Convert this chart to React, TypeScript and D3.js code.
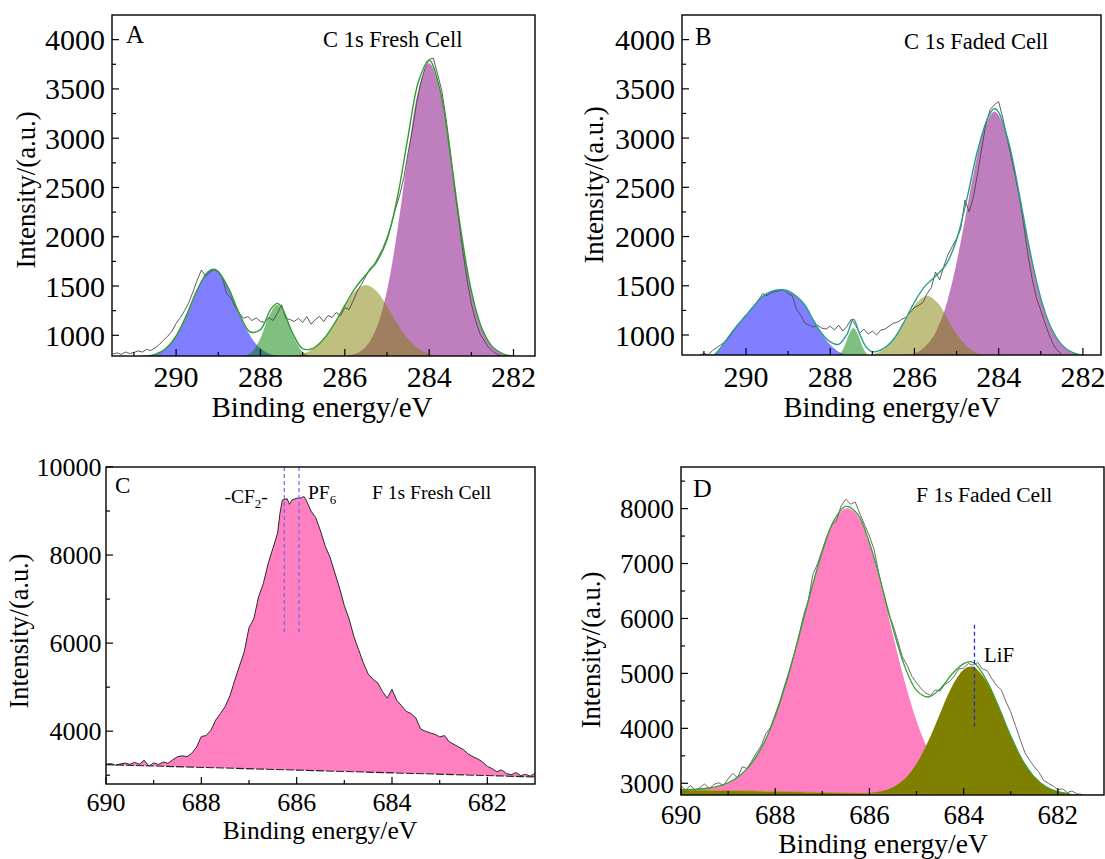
import React from "react";
import * as d3 from "d3";

const FONT = '"Liberation Serif","Times New Roman",Times,serif';

// ================= Panel A : C 1s Fresh Cell =================
const A_X_MAJOR = [290, 288, 286, 284, 282];
const A_X_MINOR = [291, 289, 287, 285, 283];
const A_Y_MAJOR = [1000, 1500, 2000, 2500, 3000, 3500, 4000];
const A_Y_MINOR = [1250, 1750, 2250, 2750, 3250, 3750];

const A_BLUE_X = [290.87, 290.62, 290.37, 290.12, 289.87, 289.62, 289.37, 289.12, 288.87, 288.62, 288.37, 288.12, 287.87, 287.62, 287.37];
const A_BLUE_Y = [783, 794, 829, 920, 1094, 1341, 1573, 1670, 1573, 1341, 1094, 920, 829, 794, 783];
const A_GREEN_X = [288.6, 288.4, 288.2, 288.0, 287.8, 287.6, 287.4, 287.2, 287.0, 286.8, 286.6];
const A_GREEN_Y = [781, 789, 833, 971, 1191, 1310, 1191, 971, 833, 789, 781];
const A_OLIVE_X = [287.5, 287.25, 287.0, 286.75, 286.5, 286.25, 286.0, 285.75, 285.5, 285.25, 285.0, 284.75, 284.5, 284.25, 284.0, 283.75, 283.5];
const A_OLIVE_Y = [783, 790, 812, 863, 962, 1114, 1296, 1449, 1510, 1449, 1296, 1114, 962, 863, 812, 790, 783];
const A_PURPLE_X = [286.25, 286.0, 285.75, 285.5, 285.25, 285.0, 284.75, 284.5, 284.25, 284.0, 283.75, 283.5, 283.25, 283.0, 282.75, 282.5, 282.25, 282.0, 281.75];
const A_PURPLE_Y = [782, 788, 812, 885, 1072, 1454, 2072, 2835, 3495, 3760, 3495, 2835, 2072, 1454, 1072, 885, 812, 788, 782];

const A_ENV_X = [291.5, 291.25, 291.0, 290.75, 290.5, 290.25, 290.0, 289.75, 289.5, 289.25, 289.1, 289.0, 288.75, 288.5, 288.25, 288.0, 287.75, 287.6, 287.5, 287.25, 287.0, 286.75, 286.5, 286.25, 286.0, 285.75, 285.5, 285.25, 285.0, 284.75, 284.5, 284.25, 284.0, 283.75, 283.5, 283.25, 283.0, 282.75, 282.5, 282.25, 282.0, 281.75, 281.5];
const A_ENV_Y = [780, 780, 781, 787, 806, 864, 993, 1207, 1462, 1643, 1670, 1647, 1471, 1220, 1036, 1058, 1268, 1324, 1287, 1034, 865, 868, 962, 1116, 1304, 1481, 1615, 1741, 1970, 2406, 3017, 3578, 3792, 3505, 2838, 2072, 1454, 1072, 885, 812, 788, 782, 780];

const A_RAW_X = [
  291.5, 291.4, 291.3, 291.2, 291.1, 291.0, 290.9, 290.8, 290.7, 290.6,
  290.5, 290.4, 290.3, 290.2, 290.1, 290.0, 289.9, 289.8, 289.7, 289.6,
  289.5, 289.4, 289.3, 289.2, 289.1, 289.0, 288.9, 288.8, 288.7, 288.6,
  288.5, 288.4, 288.3, 288.2, 288.1, 288.0, 287.9, 287.8, 287.7, 287.6,
  287.5, 287.4, 287.3, 287.2, 287.1, 287.0, 286.9, 286.8, 286.7, 286.6,
  286.5, 286.4, 286.3, 286.2, 286.1, 286.0, 285.9, 285.8, 285.7, 285.6,
  285.5, 285.4, 285.3, 285.2, 285.1, 285.0, 284.9, 284.8, 284.7, 284.6,
  284.5, 284.4, 284.3, 284.2, 284.1, 284.0, 283.9, 283.8, 283.7, 283.6,
  283.5, 283.4, 283.3, 283.2, 283.1, 283.0, 282.9, 282.8, 282.7, 282.6,
  282.5, 282.4, 282.3,
];
const A_RAW_Y = [
  810, 822, 806, 831, 815, 826, 842, 830, 856, 846,
  872, 905, 950, 990, 1040, 1120, 1180, 1250, 1330, 1440,
  1560, 1662, 1600, 1640, 1668, 1645, 1580, 1420, 1380, 1290,
  1222, 1172, 1190, 1150, 1176, 1140, 1132, 1180, 1150, 1222,
  1310, 1172, 1160, 1140, 1172, 1130, 1190, 1112, 1160, 1192,
  1140, 1200, 1182, 1232, 1200, 1282, 1260, 1350, 1450, 1520,
  1600, 1680, 1720, 1800, 1880, 1990, 2120, 2280, 2420, 2600,
  2850, 3080, 3350, 3560, 3710, 3800, 3812, 3650, 3480, 3200,
  2880, 2500, 2180, 1850, 1560, 1320, 1150, 1020, 950, 880,
  840, 812, 792,
];

// ================= Panel B : C 1s Faded Cell =================
const B_X_MAJOR = [290, 288, 286, 284, 282];
const B_X_MINOR = [291, 289, 287, 285, 283];
const B_Y_MAJOR = [1000, 1500, 2000, 2500, 3000, 3500, 4000];
const B_Y_MINOR = [1250, 1750, 2250, 2750, 3250, 3750];

const B_BLUE_X = [290.85, 290.75, 290.6, 290.4, 290.2, 290.0, 289.8, 289.6, 289.4, 289.2, 289.0, 288.8, 288.6, 288.4, 288.2, 288.0, 287.8, 287.6, 287.4];
const B_BLUE_Y = [790, 800, 870, 990, 1100, 1200, 1300, 1390, 1440, 1457, 1445, 1390, 1300, 1150, 1010, 900, 830, 795, 782];
const B_GREEN_X = [287.95, 287.85, 287.75, 287.65, 287.55, 287.45, 287.35, 287.25, 287.15, 287.05, 286.95];
const B_GREEN_Y = [781, 788, 819, 899, 1012, 1070, 1012, 899, 819, 788, 781];
const B_OLIVE_X = [287.45, 287.2, 286.95, 286.7, 286.45, 286.2, 285.95, 285.7, 285.45, 285.2, 284.95, 284.7, 284.45, 284.2, 283.95];
const B_OLIVE_Y = [781, 787, 807, 864, 981, 1156, 1327, 1400, 1327, 1156, 981, 864, 807, 787, 781];
const B_PURPLE_X = [286.6, 286.35, 286.1, 285.85, 285.6, 285.35, 285.1, 284.85, 284.6, 284.35, 284.1, 283.85, 283.6, 283.35, 283.1, 282.85, 282.6, 282.35, 282.1, 281.85, 281.6];
const B_PURPLE_Y = [782, 786, 802, 846, 954, 1172, 1542, 2060, 2632, 3093, 3270, 3093, 2632, 2060, 1542, 1172, 954, 846, 802, 786, 782];

const B_ENV_X = [291.5, 291.25, 291.0, 290.85, 290.75, 290.6, 290.4, 290.2, 290.0, 289.8, 289.6, 289.4, 289.2, 289.0, 288.8, 288.6, 288.4, 288.2, 288.0, 287.8, 287.6, 287.45, 287.3, 287.15, 287.0, 286.75, 286.5, 286.25, 286.0, 285.75, 285.5, 285.25, 285.0, 284.75, 284.5, 284.25, 284.1, 284.0, 283.75, 283.5, 283.25, 283.0, 282.75, 282.5, 282.25, 282.0, 281.75, 281.57];
const B_ENV_Y = [780, 781, 786, 792, 802, 872, 992, 1102, 1202, 1302, 1392, 1442, 1459, 1447, 1392, 1302, 1152, 1015, 930, 905, 1010, 1160, 1010, 880, 830, 860, 955, 1129, 1333, 1496, 1597, 1714, 1967, 2392, 2876, 3214, 3300, 3260, 2934, 2406, 1838, 1375, 1068, 900, 823, 793, 783, 780];

const B_RAW_X = [
  291.1, 291.0, 290.9, 290.8, 290.7, 290.6, 290.5, 290.4, 290.3, 290.2,
  290.1, 290.0, 289.9, 289.8, 289.7, 289.6, 289.5, 289.4, 289.3, 289.2,
  289.1, 289.0, 288.9, 288.8, 288.7, 288.6, 288.5, 288.4, 288.3, 288.2,
  288.1, 288.0, 287.9, 287.8, 287.7, 287.6, 287.5, 287.4, 287.3, 287.2,
  287.1, 287.0, 286.9, 286.8, 286.7, 286.6, 286.5, 286.4, 286.3, 286.2,
  286.1, 286.0, 285.9, 285.8, 285.7, 285.6, 285.5, 285.4, 285.3, 285.2,
  285.1, 285.0, 284.9, 284.8, 284.7, 284.6, 284.5, 284.4, 284.3, 284.2,
  284.1, 284.0, 283.9, 283.8, 283.7, 283.6, 283.5, 283.4, 283.3, 283.2,
  283.1, 283.0, 282.9, 282.8, 282.7, 282.6, 282.5,
];
const B_RAW_Y = [
  795, 812, 800, 840, 870, 900, 930, 980, 1040, 1100,
  1150, 1200, 1250, 1300, 1360, 1420, 1400, 1430, 1440, 1450,
  1460, 1420, 1400, 1260, 1200, 1120, 1100, 1080, 1100, 1070,
  1060, 1090, 1050, 1100, 1040, 1090, 1160, 1100, 1020, 1060,
  1010, 1040, 1000, 1050, 1060, 1090, 1120, 1130, 1160, 1180,
  1230, 1280, 1300, 1330, 1420, 1480, 1640, 1560, 1700, 1820,
  1900, 1980, 2080, 2370, 2250, 2400, 2640, 2900, 3150, 3290,
  3340, 3370, 3200, 3000, 2800, 2600, 2380, 2100, 1800, 1560,
  1370, 1250, 1120, 1000, 900, 840, 805,
];

// ================= Panel C : F 1s Fresh Cell =================
const C_X_MAJOR = [690, 688, 686, 684, 682];
const C_X_MINOR = [689, 687, 685, 683];
const C_Y_MAJOR = [4000, 6000, 8000, 10000];
const C_Y_MINOR = [3000, 5000, 7000, 9000];

const C_RAW_X = [
  690.0, 689.9, 689.8, 689.7, 689.6, 689.5, 689.4, 689.3, 689.2, 689.1,
  689.0, 688.9, 688.8, 688.7, 688.6, 688.5, 688.4, 688.3, 688.2, 688.1,
  688.0, 687.9, 687.8, 687.7, 687.6, 687.5, 687.4, 687.3, 687.2, 687.1,
  687.0, 686.9, 686.8, 686.7, 686.6, 686.5, 686.4, 686.35, 686.3, 686.2,
  686.15, 686.1, 686.0, 685.9, 685.85, 685.8, 685.7, 685.6, 685.5, 685.4,
  685.3, 685.2, 685.1, 685.0, 684.9, 684.8, 684.7, 684.6, 684.5, 684.4,
  684.3, 684.2, 684.1, 684.0, 683.9, 683.8, 683.7, 683.6, 683.5, 683.4,
  683.3, 683.2, 683.1, 683.0, 682.9, 682.8, 682.7, 682.6, 682.5, 682.4,
  682.3, 682.2, 682.1, 682.0, 681.9, 681.8, 681.7, 681.6, 681.5, 681.4,
  681.3, 681.2, 681.1, 681.0,
];
const C_RAW_Y = [
  3250, 3265, 3225, 3255, 3275, 3245, 3290, 3250, 3340, 3205,
  3280, 3245, 3300, 3270, 3350, 3420, 3440, 3420, 3500, 3640,
  3880, 3900, 4020, 4250, 4400, 4560, 4800, 5150, 5480, 5800,
  6350, 6550, 7050, 7350, 7800, 8150, 8500, 8950, 9250, 9280,
  9150, 9250, 9290, 9300, 9330, 9250, 9000, 8850, 8550, 8200,
  7950, 7600, 7250, 6850, 6550, 6150, 5850, 5550, 5300, 5180,
  5100, 4900, 4750, 4950, 4700, 4580, 4450, 4400, 4300, 4050,
  4000, 3960, 3930, 3870, 3900, 3760, 3700, 3640, 3580, 3480,
  3420, 3370, 3300, 3200, 3150, 3080, 3120, 3040, 3010, 3060,
  2990, 3020, 2980, 3040,
];
const C_BASE_X = [690, 681];
const C_BASE_Y = [3240, 2960];
const C_MARK_X = [686.26, 685.95];
const C_MARK_Y = [6250, 10000];

// ================= Panel D : F 1s Faded Cell =================
const D_X_MAJOR = [690, 688, 686, 684, 682];
const D_X_MINOR = [689, 687, 685, 683];
const D_Y_MAJOR = [3000, 4000, 5000, 6000, 7000, 8000];
const D_Y_MINOR = [3500, 4500, 5500, 6500, 7500, 8500];

const D_PINK_X = [690, 689.75, 689.5, 689.25, 689, 688.75, 688.5, 688.25, 688, 687.75, 687.5, 687.25, 687, 686.75, 686.5, 686.25, 686, 685.75, 685.5, 685.25, 685, 684.75, 684.5, 684.25, 684, 683.75, 683.5, 683.25, 683];
const D_PINK_Y = [2885, 2890, 2905, 2939, 3010, 3140, 3366, 3717, 4222, 4881, 5658, 6473, 7219, 7759, 8003, 7871, 7362, 6588, 5698, 4848, 4133, 3601, 3242, 3024, 2903, 2841, 2812, 2799, 2794];
const D_PINK_BASE = [2880, 2877, 2875, 2872, 2868, 2864, 2860, 2856, 2852, 2848, 2843, 2838, 2833, 2828, 2822, 2818, 2812, 2808, 2805, 2802, 2800, 2799, 2797, 2796, 2795, 2794, 2793, 2792, 2792];
const D_OLIVE_X = [690, 689, 688, 687, 686.5, 686, 685.75, 685.5, 685.25, 685, 684.75, 684.5, 684.25, 684, 683.85, 683.75, 683.5, 683.25, 683, 682.75, 682.5, 682.25, 682, 681.75, 681.5, 681];
const D_OLIVE_Y = [2880, 2868, 2852, 2833, 2822, 2828, 2855, 2928, 3082, 3358, 3769, 4272, 4756, 5069, 5125, 5099, 4834, 4371, 3859, 3420, 3116, 2937, 2848, 2810, 2796, 2790];
const D_ENV_X = [690, 689.75, 689.5, 689.25, 689, 688.75, 688.5, 688.25, 688, 687.75, 687.5, 687.25, 687, 686.75, 686.5, 686.25, 686, 685.75, 685.5, 685.25, 685, 684.75, 684.5, 684.25, 684, 683.85, 683.75, 683.5, 683.25, 683, 682.75, 682.5, 682.25, 682, 681.75];
const D_ENV_Y = [2885, 2890, 2905, 2939, 3010, 3140, 3366, 3717, 4222, 4881, 5658, 6473, 7219, 7790, 8040, 7900, 7378, 6635, 5821, 5128, 4691, 4571, 4717, 4984, 5177, 5215, 5170, 4853, 4378, 3861, 3420, 3116, 2937, 2848, 2810];
const D_RAW_X = [
  690.0, 689.9, 689.8, 689.7, 689.6, 689.5, 689.4, 689.3, 689.2, 689.1,
  689.0, 688.9, 688.8, 688.7, 688.6, 688.5, 688.4, 688.3, 688.2, 688.1,
  688.0, 687.9, 687.8, 687.7, 687.6, 687.5, 687.4, 687.3, 687.2, 687.1,
  687.0, 686.9, 686.8, 686.7, 686.6, 686.5, 686.4, 686.3, 686.2, 686.1,
  686.0, 685.9, 685.8, 685.7, 685.6, 685.5, 685.4, 685.3, 685.2, 685.1,
  685.0, 684.9, 684.8, 684.7, 684.6, 684.5, 684.4, 684.3, 684.2, 684.1,
  684.0, 683.9, 683.8, 683.7, 683.6, 683.5, 683.4, 683.3, 683.2, 683.1,
  683.0, 682.9, 682.8, 682.7, 682.6, 682.5, 682.4, 682.3, 682.2, 682.1,
  682.0, 681.9, 681.8, 681.7, 681.6, 681.5,
];
const D_RAW_Y = [
  2950, 2880, 2960, 2870, 2920, 2990, 2900, 2980, 3010, 2960,
  3080, 3180, 3100, 3300, 3270, 3400, 3550, 3680, 3900, 4020,
  4250, 4500, 4780, 5050, 5350, 5680, 6050, 6320, 6800, 7000,
  7250, 7500, 7700, 7780, 8050, 8170, 8080, 8120, 7900, 7700,
  7500, 7250, 6820, 6450, 6100, 5880, 5600, 5300, 5150, 4950,
  4830, 4720, 4640, 4600, 4700, 4680, 4800, 4850, 4950, 5080,
  5100, 5180, 5150, 5200, 5080, 5050, 4900, 4780, 4700, 4480,
  4300, 4050, 3800, 3560, 3420, 3300, 3200, 3050, 3000, 2950,
  2880, 2900, 2830, 2860, 2810, 2800,
];
const D_MARK_X = [683.77, 683.77];
const D_MARK_Y = [4030, 5940];

// ================= helpers =================
type P = [number, number];
const zip = (xs: number[], ys: number[]): P[] => xs.map((x, i) => [x, ys[i]] as P);

type Box = { l: number; r: number; t: number; b: number };
type Scale = d3.ScaleLinear<number, number>;

interface PanelProps {
  id: string;
  box: Box;
  xDomain: [number, number];
  yDomain: [number, number];
  xMajor: number[];
  xMinor: number[];
  yMajor: number[];
  yMinor: number[];
  tickFont: number;
  xTickBaseline: number;
  yTickGap: number;
  xTitle: { x: number; y: number; size: number };
  yTitle: { x: number; y: number; size: number };
  draw: (x: Scale, y: Scale) => React.ReactNode;
}

function Panel(p: PanelProps) {
  const x = d3.scaleLinear().domain(p.xDomain).range([p.box.l, p.box.r]);
  const y = d3.scaleLinear().domain(p.yDomain).range([p.box.b, p.box.t]);
  const { l, r, t, b } = p.box;
  const MAJ = 7;
  const MIN = 4;
  return (
    <g>
      <defs>
        <clipPath id={p.id}>
          <rect x={l} y={t} width={r - l} height={b - t} />
        </clipPath>
      </defs>
      <g clipPath={`url(#${p.id})`}>{p.draw(x, y)}</g>
      {p.xMajor.map((v) => (
        <line key={"xM" + v} x1={x(v)} x2={x(v)} y1={b} y2={b - MAJ} stroke="#000" strokeWidth={1.2} />
      ))}
      {p.xMinor.map((v) => (
        <line key={"xm" + v} x1={x(v)} x2={x(v)} y1={b} y2={b - MIN} stroke="#000" strokeWidth={1.2} />
      ))}
      {p.yMajor.map((v) => (
        <line key={"yM" + v} x1={l} x2={l + MAJ} y1={y(v)} y2={y(v)} stroke="#000" strokeWidth={1.2} />
      ))}
      {p.yMinor.map((v) => (
        <line key={"ym" + v} x1={l} x2={l + MIN} y1={y(v)} y2={y(v)} stroke="#000" strokeWidth={1.2} />
      ))}
      <rect x={l} y={t} width={r - l} height={b - t} fill="none" stroke="#000" strokeWidth={1.4} />
      {p.xMajor.map((v) => (
        <text key={"xl" + v} x={x(v)} y={p.xTickBaseline} textAnchor="middle" fontSize={p.tickFont} fontFamily={FONT} fill="#000">
          {v}
        </text>
      ))}
      {p.yMajor.map((v) => (
        <text key={"yl" + v} x={l - p.yTickGap} y={y(v)} dy="0.35em" textAnchor="end" fontSize={p.tickFont} fontFamily={FONT} fill="#000">
          {v}
        </text>
      ))}
      <text x={p.xTitle.x} y={p.xTitle.y} textAnchor="middle" fontSize={p.xTitle.size} fontFamily={FONT} fill="#000">
        Binding energy/eV
      </text>
      <text
        transform={`translate(${p.yTitle.x},${p.yTitle.y}) rotate(-90)`}
        textAnchor="middle"
        fontSize={p.yTitle.size}
        fontFamily={FONT}
        fill="#000"
      >
        Intensity/(a.u.)
      </text>
    </g>
  );
}

const smooth = d3.curveCatmullRom.alpha(0.5);

function compArea(x: Scale, y: Scale, data: P[], floor: number) {
  return d3
    .area<P>()
    .x((d) => x(d[0]))
    .y0(y(floor))
    .y1((d) => y(d[1]))
    .curve(smooth)(data) as string;
}
function curveLine(x: Scale, y: Scale, data: P[], c: d3.CurveFactory) {
  return d3
    .line<P>()
    .x((d) => x(d[0]))
    .y((d) => y(d[1]))
    .curve(c)(data) as string;
}

function drawC1s(
  x: Scale,
  y: Scale,
  floor: number,
  blue: P[],
  green: P[],
  olive: P[],
  purple: P[],
  env: P[],
  raw: P[],
  envColor: string
) {
  return (
    <g>
      <path d={compArea(x, y, purple, floor)} fill="#800080" fillOpacity={0.5} />
      <path d={compArea(x, y, blue, floor)} fill="#0000ff" fillOpacity={0.5} />
      <path d={compArea(x, y, green, floor)} fill="#008000" fillOpacity={0.5} />
      <path d={compArea(x, y, olive, floor)} fill="#808000" fillOpacity={0.5} />
      <path d={curveLine(x, y, raw, d3.curveLinear)} fill="none" stroke="#4a4a4a" strokeWidth={0.9} />
      <path d={curveLine(x, y, env, smooth)} fill="none" stroke={envColor} strokeWidth={1.4} />
    </g>
  );
}

export default function App() {
  const FLOOR_A = 700;
  return (
    <svg
      width={1105}
      height={859}
      viewBox="0 0 1105 859"
      style={{ position: "absolute", left: 0, top: 0, background: "#fff" }}
      xmlns="http://www.w3.org/2000/svg"
    >
      <rect x={0} y={0} width={1105} height={859} fill="#fff" />

      {/* ---------- A ---------- */}
      <Panel
        id="clipA"
        box={{ l: 112, r: 535, t: 15, b: 356 }}
        xDomain={[291.52, 281.49]}
        yDomain={[790, 4250]}
        xMajor={A_X_MAJOR}
        xMinor={A_X_MINOR}
        yMajor={A_Y_MAJOR}
        yMinor={A_Y_MINOR}
        tickFont={30}
        xTickBaseline={387}
        yTickGap={7}
        xTitle={{ x: 322, y: 417, size: 29 }}
        yTitle={{ x: 35, y: 190, size: 26.7 }}
        draw={(x, y) =>
          drawC1s(
            x,
            y,
            FLOOR_A,
            zip(A_BLUE_X, A_BLUE_Y),
            zip(A_GREEN_X, A_GREEN_Y),
            zip(A_OLIVE_X, A_OLIVE_Y),
            zip(A_PURPLE_X, A_PURPLE_Y),
            zip(A_ENV_X, A_ENV_Y),
            zip(A_RAW_X, A_RAW_Y),
            "#2f9e2f"
          )
        }
      />
      <text x={126} y={43} fontSize={25} fontFamily={FONT}>A</text>
      <text x={323} y={47} fontSize={22.5} fontFamily={FONT}>C 1s Fresh Cell</text>

      {/* ---------- B ---------- */}
      <Panel
        id="clipB"
        box={{ l: 682, r: 1101, t: 15, b: 355 }}
        xDomain={[291.52, 281.57]}
        yDomain={[797, 4250]}
        xMajor={B_X_MAJOR}
        xMinor={B_X_MINOR}
        yMajor={B_Y_MAJOR}
        yMinor={B_Y_MINOR}
        tickFont={30}
        xTickBaseline={387}
        yTickGap={7}
        xTitle={{ x: 892, y: 417, size: 28.5 }}
        yTitle={{ x: 603, y: 185, size: 26.7 }}
        draw={(x, y) =>
          drawC1s(
            x,
            y,
            FLOOR_A,
            zip(B_BLUE_X, B_BLUE_Y),
            zip(B_GREEN_X, B_GREEN_Y),
            zip(B_OLIVE_X, B_OLIVE_Y),
            zip(B_PURPLE_X, B_PURPLE_Y),
            zip(B_ENV_X, B_ENV_Y),
            zip(B_RAW_X, B_RAW_Y),
            "#27a08a"
          )
        }
      />
      <text x={695} y={45} fontSize={25} fontFamily={FONT}>B</text>
      <text x={904} y={49} fontSize={22.5} fontFamily={FONT}>C 1s Faded Cell</text>

      {/* ---------- C ---------- */}
      <Panel
        id="clipC"
        box={{ l: 106, r: 535, t: 467, b: 784 }}
        xDomain={[690, 681]}
        yDomain={[2800, 10000]}
        xMajor={C_X_MAJOR}
        xMinor={C_X_MINOR}
        yMajor={C_Y_MAJOR}
        yMinor={C_Y_MINOR}
        tickFont={26}
        xTickBaseline={811}
        yTickGap={4.5}
        xTitle={{ x: 320, y: 839, size: 25.5 }}
        yTitle={{ x: 28, y: 631, size: 26.3 }}
        draw={(x, y) => {
          const raw = zip(C_RAW_X, C_RAW_Y);
          const base = zip(C_BASE_X, C_BASE_Y);
          const poly = [...raw, ...base.slice().reverse()];
          const polyD = (d3.line<P>().x((d) => x(d[0])).y((d) => y(d[1]))(poly) as string) + "Z";
          return (
            <g>
              <path d={polyD} fill="#ff80c0" />
              <path d={curveLine(x, y, raw, d3.curveLinear)} fill="none" stroke="#2a2a2a" strokeWidth={1} />
              <path d={curveLine(x, y, base, d3.curveLinear)} fill="none" stroke="#222" strokeWidth={1.1} strokeDasharray="8 2" />
              {C_MARK_X.map((v) => (
                <line key={v} x1={x(v)} x2={x(v)} y1={y(C_MARK_Y[0])} y2={y(C_MARK_Y[1])} stroke="#6a6af0" strokeWidth={1.2} strokeDasharray="4 3" />
              ))}
            </g>
          );
        }}
      />
      <text x={115} y={493} fontSize={23} fontFamily={FONT}>C</text>
      <text x={224.5} y={503} fontSize={19.5} fontFamily={FONT}>
        -CF<tspan fontSize={13} dy={5}>2</tspan>
        <tspan dy={-5}>-</tspan>
      </text>
      <text x={308} y={499} fontSize={19.5} fontFamily={FONT}>
        PF<tspan fontSize={13} dy={5}>6</tspan>
      </text>
      <text x={372} y={499} fontSize={19.6} fontFamily={FONT}>F 1s Fresh Cell</text>

      {/* ---------- D ---------- */}
      <Panel
        id="clipD"
        box={{ l: 681, r: 1104, t: 467, b: 795 }}
        xDomain={[690, 681.02]}
        yDomain={[2787, 8757]}
        xMajor={D_X_MAJOR}
        xMinor={D_X_MINOR}
        yMajor={D_Y_MAJOR}
        yMinor={D_Y_MINOR}
        tickFont={27}
        xTickBaseline={824}
        yTickGap={7}
        xTitle={{ x: 883, y: 852.5, size: 27.5 }}
        yTitle={{ x: 599.5, y: 650, size: 26.6 }}
        draw={(x, y) => {
          const pinkBase = zip(D_PINK_X, D_PINK_BASE);
          const pink = d3
            .area<number>()
            .x((i) => x(D_PINK_X[i]))
            .y0((i) => y(D_PINK_BASE[i]))
            .y1((i) => y(D_PINK_Y[i]))
            .curve(smooth)(D_PINK_X.map((_, i) => i)) as string;
          return (
            <g>
              <path d={pink} fill="#ff80c0" />
              <path d={compArea(x, y, zip(D_OLIVE_X, D_OLIVE_Y), 2700)} fill="#808000" />
              <path d={curveLine(x, y, pinkBase, smooth)} fill="none" stroke="#c98a3a" strokeWidth={0.8} />
              <path d={curveLine(x, y, zip(D_RAW_X, D_RAW_Y), d3.curveLinear)} fill="none" stroke="#5a5a5a" strokeWidth={0.9} />
              <path d={curveLine(x, y, zip(D_ENV_X, D_ENV_Y), smooth)} fill="none" stroke="#33a033" strokeWidth={1.3} />
              <line x1={x(D_MARK_X[0])} x2={x(D_MARK_X[1])} y1={y(D_MARK_Y[0])} y2={y(D_MARK_Y[1])} stroke="#2a2ac0" strokeWidth={1.3} strokeDasharray="4 3" />
            </g>
          );
        }}
      />
      <text x={693} y={497} fontSize={26} fontFamily={FONT}>D</text>
      <text x={916} y={501.7} fontSize={21.6} fontFamily={FONT}>F 1s Faded Cell</text>
      <text x={984} y={662} fontSize={20.8} fontFamily={FONT}>LiF</text>
    </svg>
  );
}
